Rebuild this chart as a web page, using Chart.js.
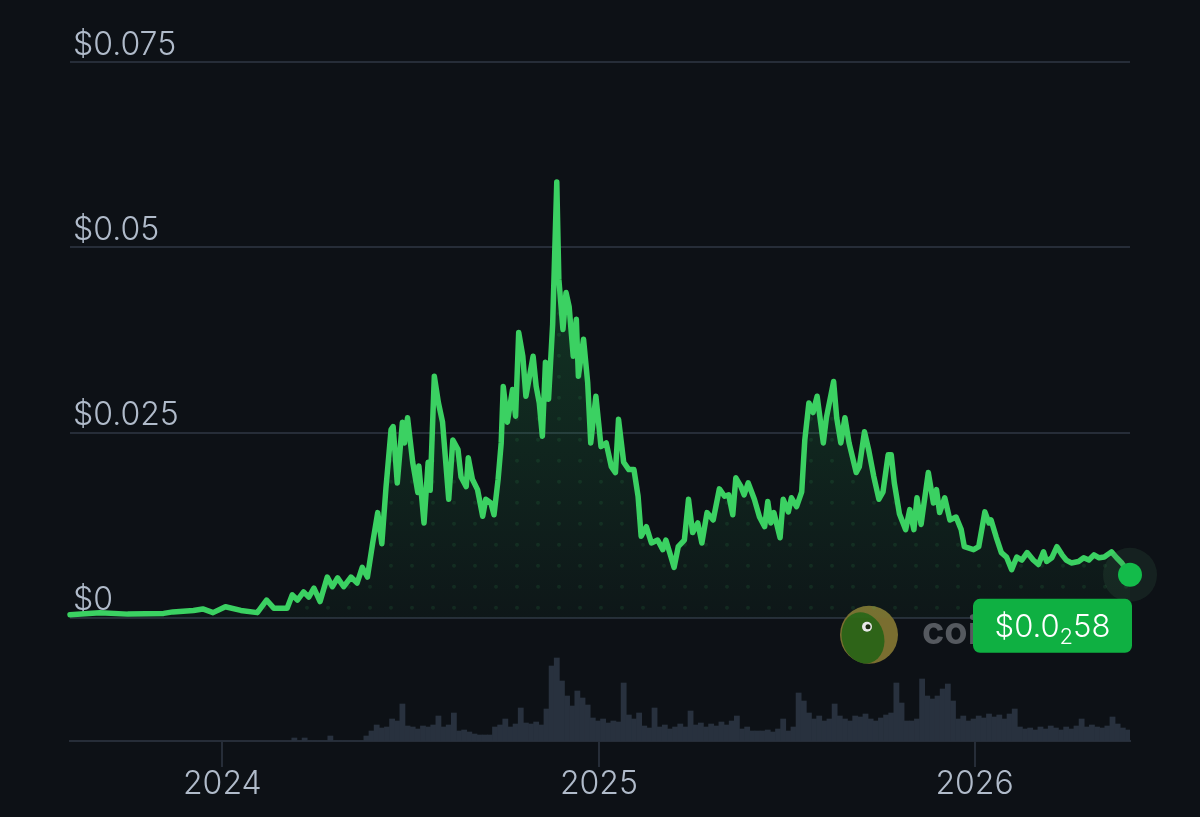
<!DOCTYPE html>
<html>
<head>
<meta charset="utf-8">
<style>
    html, body { margin: 0; padding: 0; background: #0d1116; }
</style>
</head>
<body>
<canvas id="price-chart" width="1200" height="817"></canvas>

<script src="https://cdn.jsdelivr.net/npm/chart.js"></script>
<script>
// days counted from 2024-01-01
const priceDays = [
    -148, -119, -92, -57, -48, -28, -19, -9, 3, 18, 34, 43, 50, 63, 68, 73, 79, 84, 89, 95,
    102, 107, 112, 118, 125, 131, 136, 141, 146, 151, 155, 159, 164, 166, 170, 175, 177, 180, 185, 190,
    191, 196, 200, 202, 206, 210, 214, 220, 224, 229, 232, 237, 239, 243, 248, 253, 256, 261, 264, 268,
    271, 273, 277, 282, 285, 288, 292, 295, 302, 305, 308, 311, 314, 317, 321, 325, 327, 331, 334, 337,
    341, 344, 346, 351, 355, 358, 363, 368, 373, 378, 382, 385, 390, 395, 400, 404, 407, 412, 417, 423,
    428, 431, 436, 439, 443, 449, 453, 457, 462, 466, 471, 477, 483, 488, 492, 496, 499, 504, 507, 511,
    517, 522, 527, 530, 533, 536, 542, 545, 550, 553, 558, 563, 566, 570, 574, 578, 584, 587, 594, 597,
    601, 605, 609, 616, 619, 624, 628, 633, 638, 642, 647, 650, 653, 658, 664, 668, 672, 675, 679, 686,
    691, 694, 697, 702, 707, 713, 718, 721, 730, 735, 741, 745, 747, 752, 757, 762, 767, 772, 777, 782,
    788, 793, 798, 801, 806, 811, 816, 820, 825, 832, 837, 842, 847, 852, 857, 864, 869, 874, 882
];
const prices = [
    0.0004, 0.0007, 0.0005, 0.0006, 0.0008, 0.0010, 0.0012, 0.0007, 0.0015, 0.0010, 0.0007, 0.0024, 0.0013, 0.0013, 0.0031, 0.0024, 0.0035, 0.0028, 0.0040, 0.0022,
    0.0055, 0.0042, 0.0054, 0.0042, 0.0055, 0.0047, 0.0068, 0.0055, 0.0100, 0.0142, 0.0100, 0.0175, 0.0254, 0.0258, 0.0182, 0.0264, 0.0236, 0.0270, 0.0210, 0.0169,
    0.0205, 0.0128, 0.0210, 0.0172, 0.0326, 0.0290, 0.0264, 0.0160, 0.0240, 0.0227, 0.0190, 0.0177, 0.0216, 0.0187, 0.0173, 0.0137, 0.0160, 0.0155, 0.0139, 0.0187,
    0.0236, 0.0312, 0.0264, 0.0308, 0.0272, 0.0385, 0.0353, 0.0299, 0.0353, 0.0312, 0.0290, 0.0245, 0.0345, 0.0295, 0.0396, 0.0588, 0.0457, 0.0389, 0.0439, 0.0420,
    0.0353, 0.0403, 0.0326, 0.0376, 0.0318, 0.0236, 0.0299, 0.0231, 0.0236, 0.0204, 0.0196, 0.0268, 0.0210, 0.0200, 0.0200, 0.0164, 0.0110, 0.0123, 0.0101, 0.0105,
    0.0092, 0.0105, 0.0082, 0.0068, 0.0096, 0.0105, 0.0160, 0.0115, 0.0128, 0.0101, 0.0142, 0.0132, 0.0174, 0.0164, 0.0166, 0.0139, 0.0189, 0.0177, 0.0166, 0.0182,
    0.0160, 0.0136, 0.0123, 0.0157, 0.0128, 0.0142, 0.0108, 0.0160, 0.0143, 0.0162, 0.0150, 0.0170, 0.0240, 0.0290, 0.0277, 0.0299, 0.0236, 0.0270, 0.0319, 0.0270,
    0.0236, 0.0270, 0.0236, 0.0196, 0.0204, 0.0251, 0.0227, 0.0191, 0.0160, 0.0170, 0.0220, 0.0220, 0.0182, 0.0140, 0.0119, 0.0146, 0.0119, 0.0162, 0.0126, 0.0196,
    0.0155, 0.0173, 0.0142, 0.0162, 0.0132, 0.0136, 0.0119, 0.0096, 0.0092, 0.0096, 0.0143, 0.0128, 0.0132, 0.0109, 0.0088, 0.0082, 0.0065, 0.0082, 0.0078, 0.0088,
    0.0078, 0.0072, 0.0089, 0.0076, 0.0081, 0.0096, 0.0085, 0.0078, 0.0074, 0.0076, 0.0081, 0.0078, 0.0085, 0.0081, 0.0082, 0.0089, 0.0081, 0.0074, 0.0058
];

// volume (millions USD), one bar every 5 days starting at day 70
const volumeStartDay = 70;
const volumeStepDays = 5;
const volumes = [
    3, 0, 3, 0, 0, 0, 0, 5, 0, 0, 0, 0, 0, 0, 5,
    10, 16, 13, 14, 22, 20, 37, 15, 14, 12, 15, 14, 16, 25, 14,
    16, 28, 10, 11, 9, 7, 6, 6, 6, 14, 16, 22, 14, 17, 33,
    18, 17, 19, 16, 32, 75, 83, 60, 45, 35, 50, 43, 36, 23, 20,
    22, 18, 20, 19, 58, 26, 22, 28, 15, 13, 33, 14, 16, 12, 14,
    17, 14, 30, 16, 18, 14, 17, 15, 19, 16, 20, 25, 12, 14, 10,
    10, 10, 11, 9, 12, 22, 10, 14, 48, 40, 28, 22, 25, 20, 22,
    37, 25, 22, 20, 25, 24, 27, 22, 20, 23, 26, 28, 58, 38, 20,
    20, 22, 62, 45, 42, 45, 52, 57, 40, 22, 25, 20, 22, 25, 23,
    27, 24, 26, 22, 27, 32, 14, 12, 13, 11, 14, 12, 15, 13, 11,
    14, 12, 15, 22, 14, 16, 14, 13, 15, 24, 17, 13, 11
];
const volumeDays = volumes.map((v, i) => volumeStartDay + i * volumeStepDays);

const yearTicks = [0, 366, 731];
const yearLabels = ['2024', '2025', '2026'];
const priceTicks = [0, 0.025, 0.05, 0.075];
const priceTickLabels = ['$0', '$0.025', '$0.05', '$0.075'];
const lastPrice = { lead: '$0.0', zeros: '2', tail: '58' };

const bgColor = '#0d1116';
const gridColor = '#262d38';
const labelColor = '#b0bbca';
const lineColor = '#3bd162';
const fontFamily = 'Inter, "DejaVu Sans", sans-serif';

const coinPlugin = {
    id: 'coinPlugin',
    beforeDraw(chart) {
        const c = chart.ctx;
        c.save();
        c.fillStyle = bgColor;
        c.fillRect(0, 0, chart.width, chart.height);
        c.restore();
    },
    beforeDatasetsDraw(chart) {
        // watermark
        const c = chart.ctx;
        const y0 = chart.scales.y.getPixelForValue(0);
        const cx = 869, cy = y0 + 17;
        c.save();
        c.beginPath();
        c.arc(cx, cy, 29, 0, Math.PI * 2);
        c.fillStyle = '#7a6e30';
        c.fill();
        c.beginPath();
        c.ellipse(cx - 6, cy + 3, 21, 26, -0.3, 0, Math.PI * 2);
        c.fillStyle = '#2e6418';
        c.fill();
        c.beginPath();
        c.arc(cx - 2, cy - 8, 5, 0, Math.PI * 2);
        c.fillStyle = '#e8e8e8';
        c.fill();
        c.beginPath();
        c.arc(cx - 1, cy - 8, 2.5, 0, Math.PI * 2);
        c.fillStyle = '#1a2a10';
        c.fill();
        c.font = 'bold 38px ' + fontFamily;
        c.fillStyle = '#55595f';
        c.textBaseline = 'alphabetic';
        c.fillText('coingecko', cx + 53, cy + 9);
        c.restore();
    },
    afterDatasetDraw(chart, args) {
        // faint dots under the price line
        if (args.index !== 1) return;
        const pts = chart.getDatasetMeta(0).data;
        if (!pts.length) return;
        const c = chart.ctx;
        const y0 = chart.scales.y.getPixelForValue(0);
        c.save();
        c.beginPath();
        c.moveTo(pts[0].x, y0);
        pts.forEach(p => c.lineTo(p.x, p.y));
        c.lineTo(pts[pts.length - 1].x, y0);
        c.closePath();
        c.clip();
        c.fillStyle = 'rgba(70, 210, 110, 0.10)';
        for (let y = y0 - 10; y > chart.chartArea.top; y -= 21) {
            for (let x = chart.chartArea.left + 6; x < chart.chartArea.right; x += 21) {
                c.beginPath();
                c.arc(x, y, 2, 0, Math.PI * 2);
                c.fill();
            }
        }
        c.restore();
    },
    afterDraw(chart) {
        const c = chart.ctx;
        const meta = chart.getDatasetMeta(0);
        const last = meta.data[meta.data.length - 1];
        const px = last.x, py = last.y;
        c.save();
        c.beginPath();
        c.arc(px, py, 27, 0, Math.PI * 2);
        c.fillStyle = 'rgba(60, 110, 80, 0.18)';
        c.fill();
        c.beginPath();
        c.arc(px, py, 12, 0, Math.PI * 2);
        c.fillStyle = '#13bb4a';
        c.fill();

        // price tag
        const bx = px - 157, by = py + 24, bw = 159, bh = 54;
        c.beginPath();
        c.roundRect(bx, by, bw, bh, 7);
        c.fillStyle = '#0fb042';
        c.fill();
        c.fillStyle = '#ffffff';
        c.textBaseline = 'alphabetic';
        const big = '300 31px ' + fontFamily;
        const small = '300 22px ' + fontFamily;
        c.font = big;
        const w1 = c.measureText(lastPrice.lead).width;
        const w3 = c.measureText(lastPrice.tail).width;
        c.font = small;
        const w2 = c.measureText(lastPrice.zeros).width;
        let tx = bx + (bw - (w1 + w2 + w3)) / 2;
        const base = by + 38;
        c.font = big;
        c.fillText(lastPrice.lead, tx, base);
        tx += w1;
        c.font = small;
        c.fillText(lastPrice.zeros, tx, base + 7);
        tx += w2;
        c.font = big;
        c.fillText(lastPrice.tail, tx, base);
        c.restore();
    }
};

const ctx = document.getElementById('price-chart').getContext('2d');

new Chart(ctx, {
    data: {
        datasets: [
            {
                type: 'line',
                label: 'Price',
                data: priceDays.map((d, i) => ({ x: d, y: prices[i] })),
                yAxisID: 'y',
                borderColor: lineColor,
                borderWidth: 5.5,
                borderJoinStyle: 'round',
                borderCapStyle: 'round',
                pointRadius: 0,
                tension: 0,
                fill: 'origin',
                clip: false,
                backgroundColor(context) {
                    const area = context.chart.chartArea;
                    if (!area) return 'rgba(0,0,0,0)';
                    const y0 = context.chart.scales.y.getPixelForValue(0);
                    const g = context.chart.ctx.createLinearGradient(0, area.top + 110, 0, y0);
                    g.addColorStop(0, 'rgba(40, 200, 95, 0.24)');
                    g.addColorStop(1, 'rgba(40, 200, 95, 0.03)');
                    return g;
                },
                order: 1
            },
            {
                type: 'bar',
                label: 'Volume',
                data: volumeDays.map((d, i) => ({ x: d, y: volumes[i] })),
                yAxisID: 'yv',
                backgroundColor: '#28313e',
                barPercentage: 1,
                categoryPercentage: 1,
                grouped: false,
                order: 2
            }
        ]
    },
    options: {
        responsive: false,
        animation: false,
        layout: { padding: { left: 70, right: 70, top: 62, bottom: 0 } },
        plugins: {
            legend: { display: false },
            tooltip: { enabled: false }
        },
        scales: {
            x: {
                type: 'linear',
                min: -148,
                max: 882,
                offset: false,
                afterBuildTicks(scale) {
                    scale.ticks = yearTicks.map(v => ({ value: v }));
                },
                afterFit(scale) {
                    scale.height = 76;
                },
                grid: {
                    offset: false,
                    drawOnChartArea: false,
                    drawTicks: true,
                    tickLength: 26,
                    color: gridColor,
                    lineWidth: 2
                },
                border: { display: true, color: gridColor, width: 2 },
                ticks: {
                    color: labelColor,
                    padding: -2,
                    maxRotation: 0,
                    font: { family: fontFamily, size: 32, weight: '300' },
                    callback: (value, index) => yearLabels[index]
                }
            },
            y: {
                type: 'linear',
                position: 'left',
                min: -0.01662,
                max: 0.075,
                afterBuildTicks(scale) {
                    scale.ticks = priceTicks.map(v => ({ value: v }));
                },
                afterFit(scale) {
                    scale.width = 0;
                },
                grid: { color: gridColor, lineWidth: 2, drawTicks: false },
                border: { display: false },
                ticks: {
                    mirror: true,
                    padding: 3,
                    labelOffset: -17,
                    color: labelColor,
                    font: { family: fontFamily, size: 32, weight: '300' },
                    callback: (value, index) => priceTickLabels[index]
                }
            },
            yv: {
                type: 'linear',
                display: false,
                min: 0,
                max: 679
            }
        }
    },
    plugins: [coinPlugin]
});
</script>
</body>
</html>
